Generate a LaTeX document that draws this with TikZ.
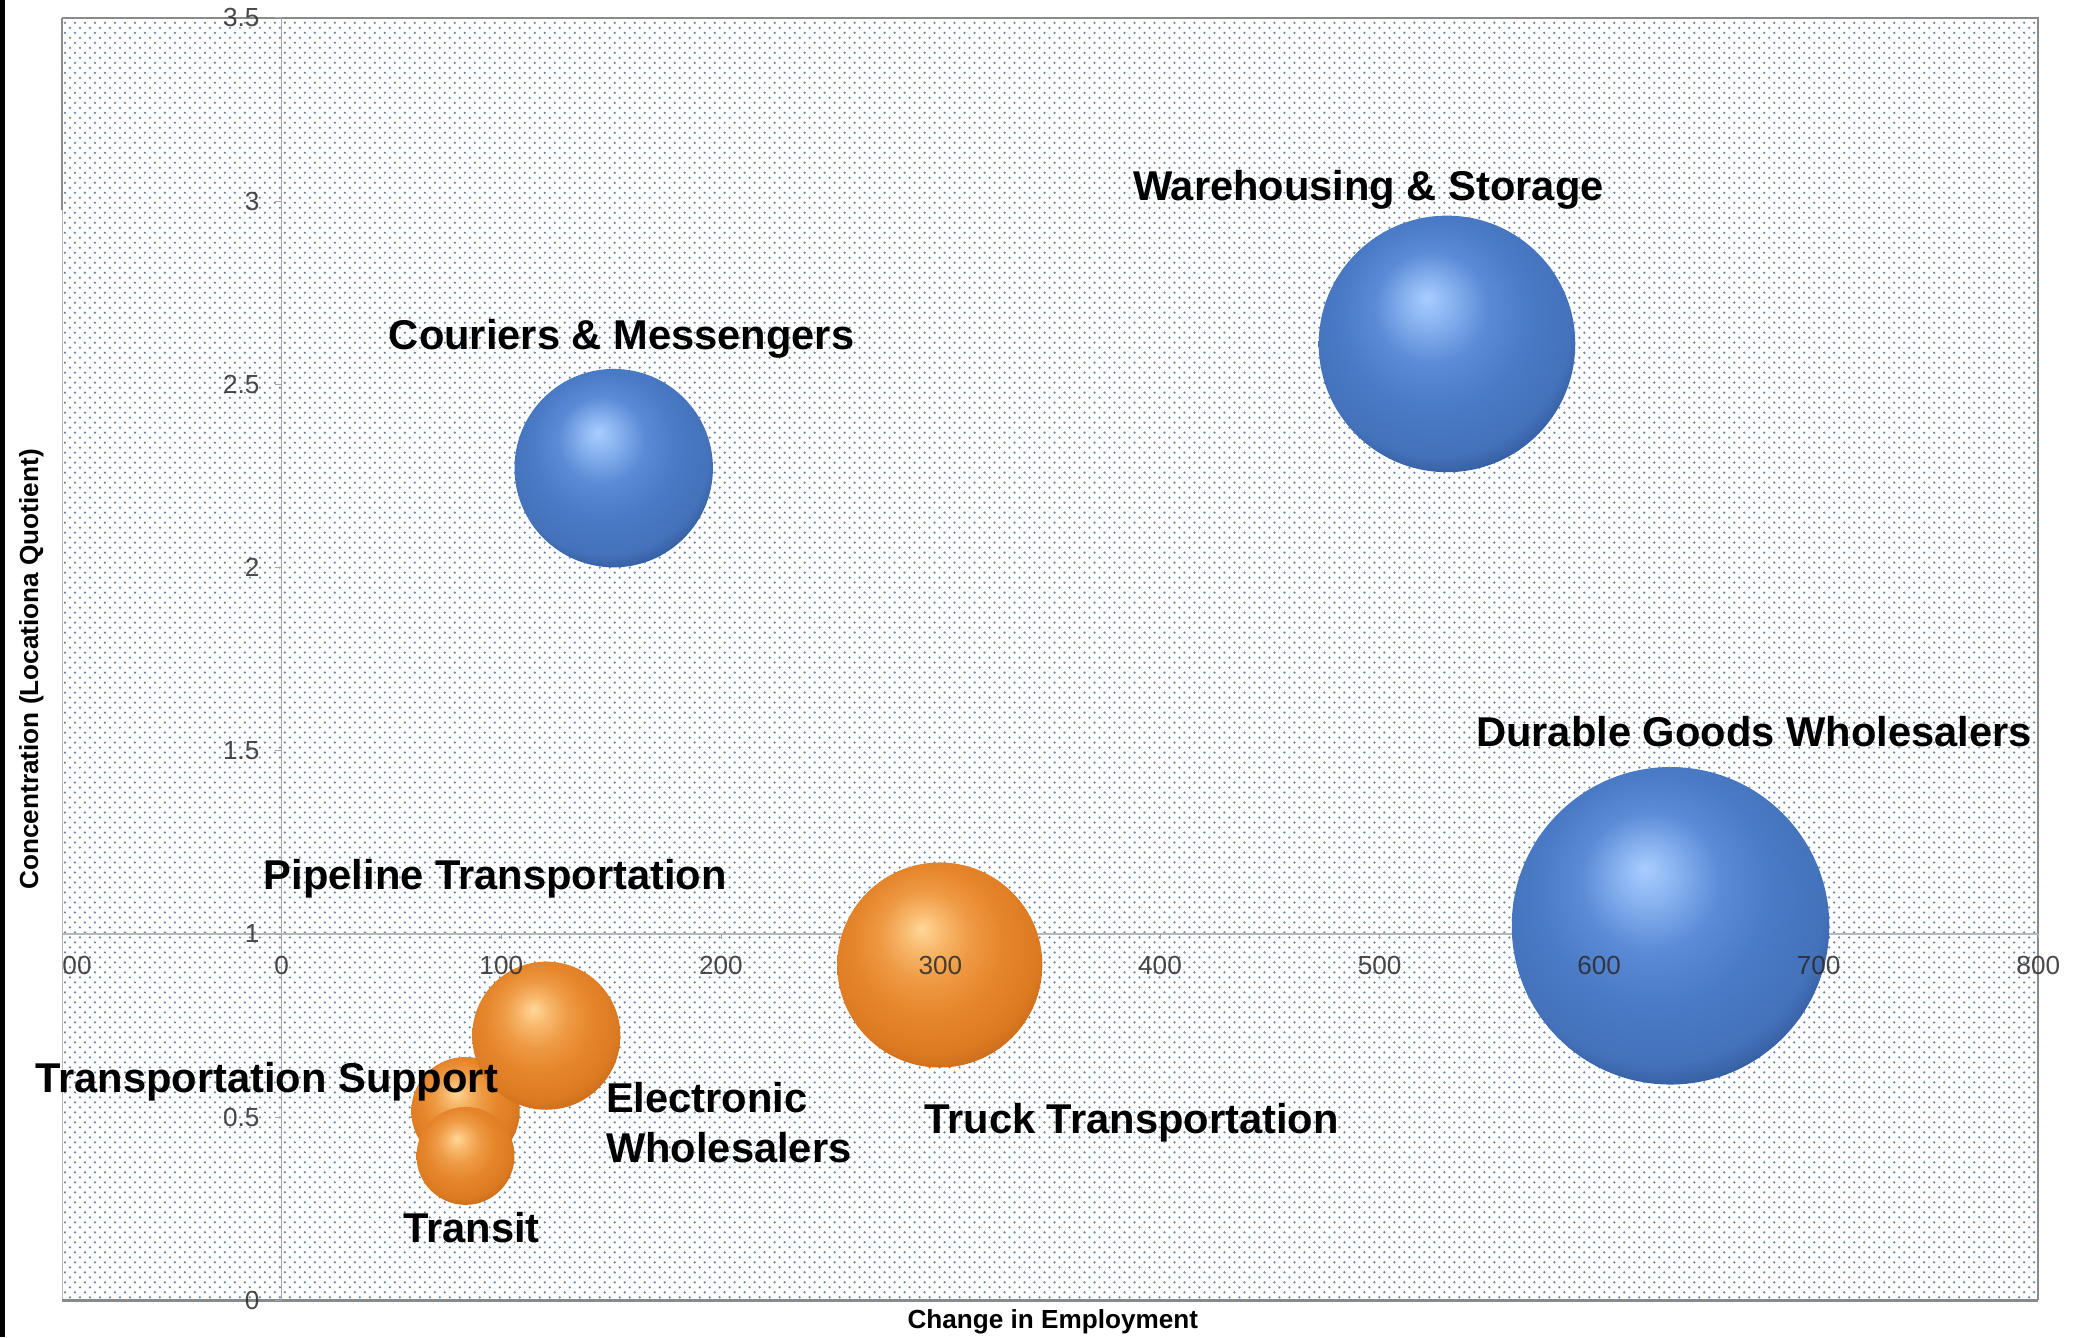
\documentclass[tikz,border=0pt]{standalone}
\usepackage{fontspec}
\setmainfont{Liberation Sans}
\usetikzlibrary{patterns,positioning}

\definecolor{dotgrey}{HTML}{6B86A3}
\definecolor{axisgrey}{HTML}{A6A6A6}
\definecolor{framegrey}{HTML}{8A8A8A}
\definecolor{tickgrey}{HTML}{2A2A2A}
\definecolor{bluehi}{HTML}{A9CDFF}
\definecolor{bluemid}{HTML}{86B0EE}
\definecolor{bluelite}{HTML}{5B8BD6}
\definecolor{bluebase}{HTML}{4A7BC6}
\definecolor{bluedeep}{HTML}{4472BB}
\definecolor{bluedim}{HTML}{2F5595}
\definecolor{bluedark}{HTML}{1D3766}
\definecolor{orangehi}{HTML}{FFD898}
\definecolor{orangemid}{HTML}{F8B86C}
\definecolor{orangelite}{HTML}{EE9A44}
\definecolor{orangebase}{HTML}{E6862C}
\definecolor{orangedeep}{HTML}{DC7A22}
\definecolor{orangedim}{HTML}{C46818}
\definecolor{orangedark}{HTML}{9A4E10}

\pgfdeclarepatternformonly{chartdots}{\pgfqpoint{-1pt}{-1pt}}{\pgfqpoint{5pt}{5pt}}{\pgfqpoint{6pt}{6pt}}%
{\pgfpathcircle{\pgfpointorigin}{0.75pt}\pgfpathcircle{\pgfqpoint{3pt}{3pt}}{0.75pt}\pgfusepath{fill}}

\pgfdeclareradialshading{bluesphere}{\pgfqpoint{-4bp}{9bp}}{color(0bp)=(bluehi); color(5bp)=(bluemid);
  color(11bp)=(bluelite); color(18bp)=(bluebase); color(26bp)=(bluedeep); color(31bp)=(bluedim);
  color(35bp)=(bluedark); color(50bp)=(bluedark)}
\pgfdeclareradialshading{orangesphere}{\pgfqpoint{-4.5bp}{9bp}}{color(0bp)=(orangehi); color(5bp)=(orangemid);
  color(11bp)=(orangelite); color(18bp)=(orangebase); color(26bp)=(orangedeep); color(31bp)=(orangedim);
  color(35bp)=(orangedark); color(50bp)=(orangedark)}

\begin{document}
\begin{tikzpicture}[x=1.318pt, y=219.94pt,
    bubble/.style={circle, inner sep=0pt, draw=none},
    bluebub/.style={bubble, shading=bluesphere},
    orangebub/.style={bubble, shading=orangesphere},
    lbl/.style={font=\fontsize{25}{30.2}\selectfont\bfseries, inner sep=0pt, anchor=base},
    ticklbl/.style={font=\fontsize{15.7}{18}\selectfont, text=tickgrey, text opacity=0.85, inner sep=0pt},
    axtitle/.style={font=\fontsize{15.7}{18}\selectfont\bfseries, inner sep=0pt}]
  \useasboundingbox (-128.31,-0.10108) rectangle (816.27,3.5487);
  \fill[black] (-128.31,-0.10108) rectangle (-125.9,3.5487);

  % plot area
  \fill[white] (-100,0) rectangle (800,3.5);
  \fill[pattern=chartdots, pattern color=dotgrey] (-100,0) rectangle (800,3.5);
  \draw[framegrey!60, line width=0.6pt] (-100,0) -- (-100,3.5);
  \draw[framegrey, line width=1.6pt] (-100,2.975) -- (-100,3.5);
  \draw[framegrey, line width=1.1pt] (-100,3.5) -- (800,3.5) -- (800,0);
  \draw[framegrey, line width=1.8pt] (800,0) -- (-100,0);

  % axes
  \draw[axisgrey, line width=0.8pt] (0,0) -- (0,3.5);
  \draw[axisgrey!80, line width=1.2pt] (-100,1) -- (800,1);
  \foreach \t in {-100,0,...,800}
    \draw[axisgrey] (\t,1) -- ++(0,-0.015);
  \foreach \v in {0,0.5,...,3.5}
    \draw[axisgrey] (0,\v) -- ++(-3,0);

  % bubbles
  \node[bluebub, minimum size=154pt] (warehousing) at (530.7,2.610) {};
  \node[bluebub, minimum size=119.1pt] (couriers) at (151.2,2.271) {};
  \node[bluebub, minimum size=190.6pt] (durable) at (632.5,1.022) {};
  \node[orangebub, minimum size=123.1pt] (truck) at (299.7,0.915) {};
  \node[orangebub, minimum size=65.1pt] (support) at (83.7,0.516) {};
  \node[orangebub, minimum size=58.8pt] (transit) at (83.7,0.394) {};
  \node[orangebub, minimum size=88.9pt] (electronic) at (120.5,0.722) {};

  % tick labels
  \node[ticklbl, anchor=west] (xtm) at (-100,0.913) {00};
  \foreach \t in {0,100,...,800}
    \node[ticklbl] (xt\t) at (\t,0.913) {\t};
  \foreach \v [count=\i] in {0,0.5,1,1.5,2,2.5,3,3.5}
    \node[ticklbl, anchor=east] (yt\i) at (-10,\v) {\v};

  % axis titles
  \node[axtitle] (xtitle) at (351.2,-0.0596) {Change in Employment};
  \node[axtitle, rotate=90] (ytitle) at (-114,1.722) {Concentration (Locationa Quotient)};

  % bubble names
  \node[lbl] (warehousinglbl) at (494.9,3.0025) {Warehousing \& Storage};
  \node[lbl] (courierslbl) at (154.8,2.5946) {Couriers \& Messengers};
  \node[lbl] (durablelbl) at (670.5,1.5116) {Durable Goods Wholesalers};
  \node[lbl] (pipelinelbl) at (97.3,1.1217) {Pipeline Transportation};
  \node[lbl] (supportlbl) at (-6.93,0.5657) {Transportation Support};
  \node[lbl, anchor=north west, align=left] (electroniclbl) at (147.6,0.5957) {Electronic\\Wholesalers};
  \node[lbl] (trucklbl) at (387.0,0.4538) {Truck Transportation};
  \node[lbl] (transitlbl) at (86.4,0.1578) {Transit};
\end{tikzpicture}
\end{document}
